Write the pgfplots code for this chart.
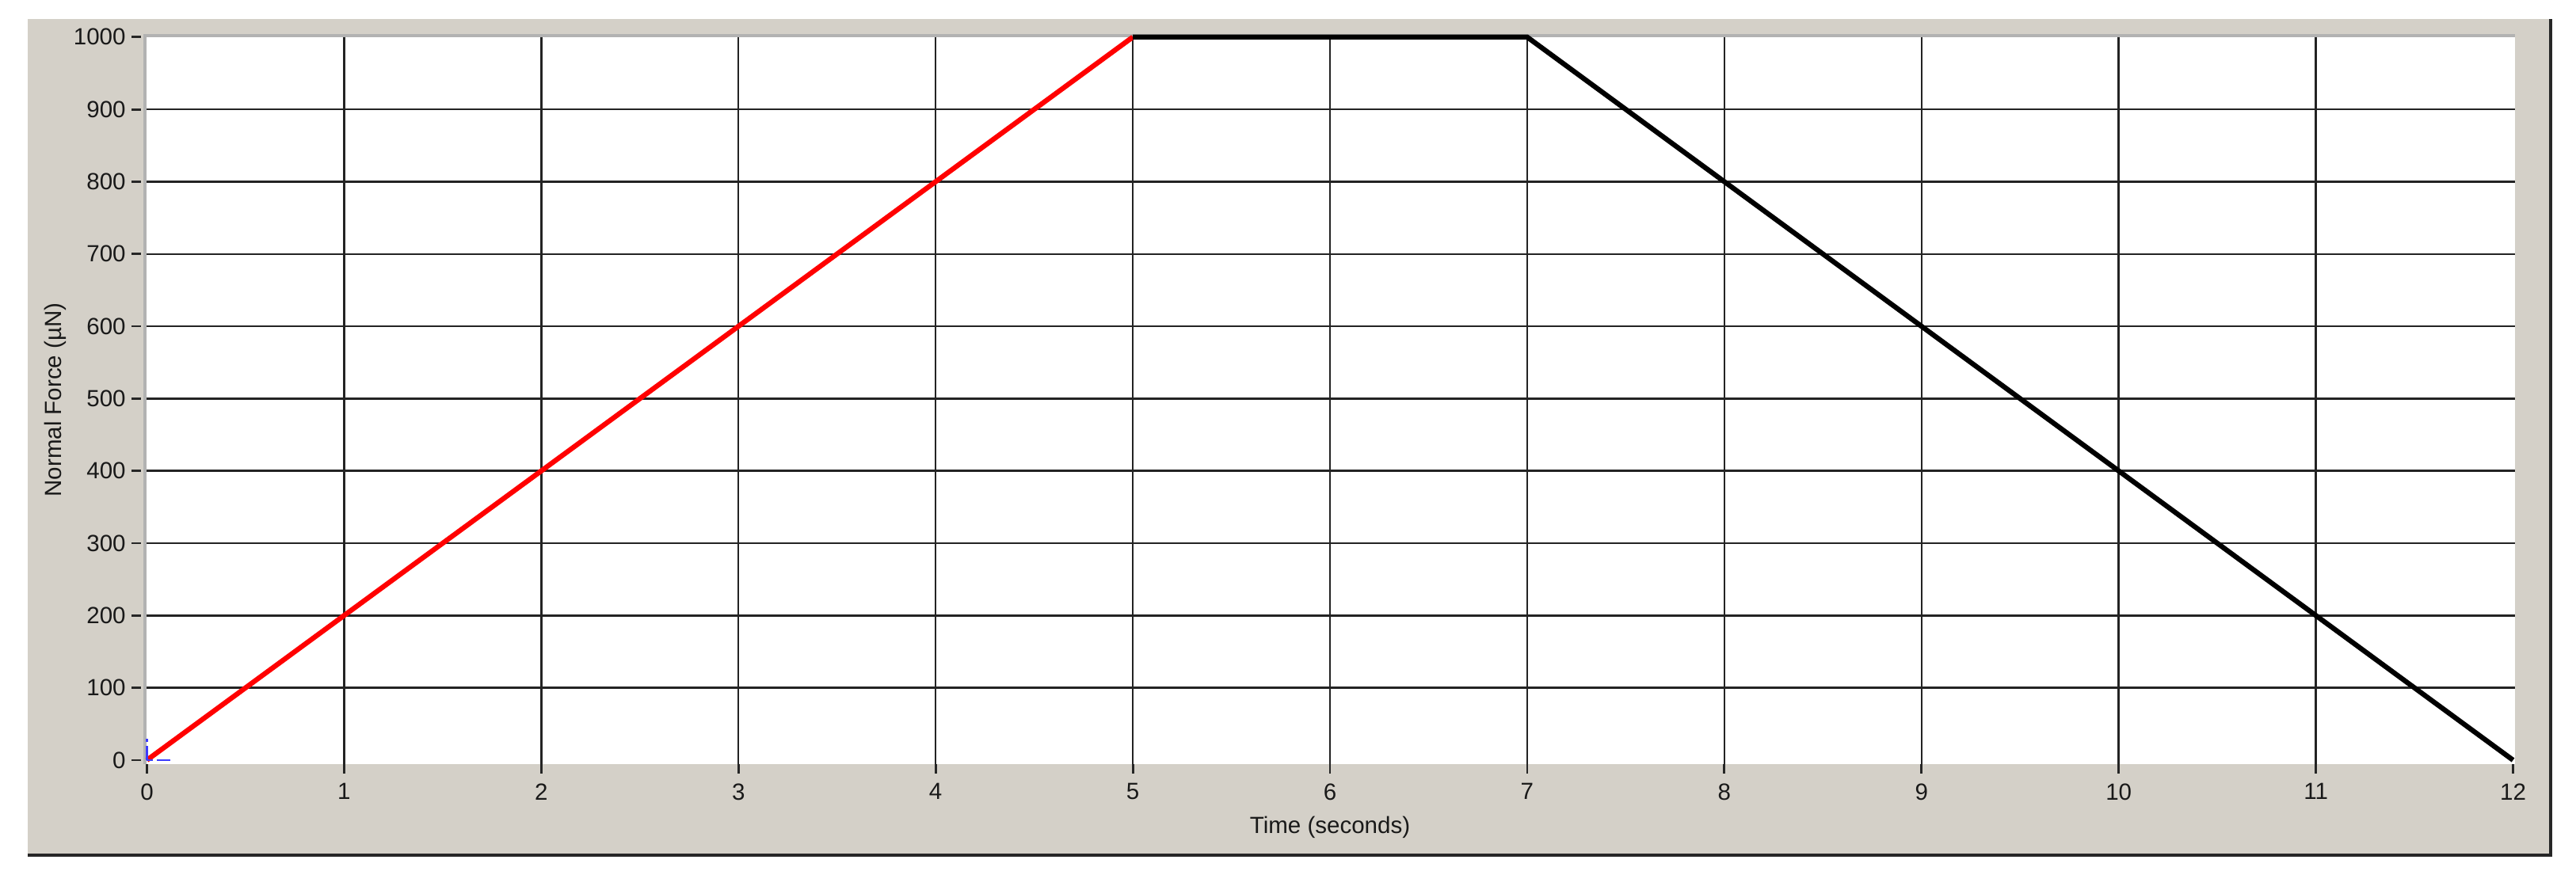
\documentclass[border=0pt]{standalone}
\usepackage{pgfplots}
\pgfplotsset{compat=1.18}
\usepackage{fontspec}
\setmainfont{Liberation Sans}
\definecolor{panel}{RGB}{212,208,200}
\definecolor{gridc}{RGB}{35,35,35}
\definecolor{cursor}{RGB}{60,60,255}

\begin{document}
\begin{tikzpicture}[x=1cm,y=1cm]
\useasboundingbox (0,0) rectangle (32.52,11.24);
\fill[white] (0,0) rectangle (32.52,11.24);
% window panel
\fill[panel] (0.35,0.44) rectangle (32.20,11.00);
\draw[line width=0.9pt, black!85] (0.35,0.44) -- (32.20,0.44) -- (32.20,11.00);
\begin{axis}[
  at={(1.83cm,1.59cm)}, anchor=south west,
  scale only axis, width=29.92cm, height=9.20cm,
  xmin=-0.01, xmax=12.01, ymin=-5.5, ymax=1002,
  clip=false,
  axis lines*=left,
  xtick={0,...,12}, ytick={0,100,...,1000},
  minor xtick={1,...,11}, minor ytick={100,200,...,900},
  minor tick length=0pt,
  major tick length=0.12cm, tick align=outside,
  ytick style={xshift=-0.05cm},
  tick style={line width=0.8pt, black!85},
  xmajorgrids=false, ymajorgrids=false,
  xminorgrids=true, yminorgrids=true,
  minor grid style={line width=0.7pt, gridc},
  axis line style={draw=none},
  axis background/.style={fill=white},
  scaled ticks=false,
  /pgf/number format/assume math mode=true,
  /pgf/number format/set thousands separator={},
  ticklabel style={font=\fontsize{8.4}{10}\selectfont, text=black!90},
  label style={font=\fontsize{8.4}{10}\selectfont, text=black!90},
  xlabel={Time (seconds)}, ylabel={Normal Force (µN)},
  every axis x label/.append style={at={(axis description cs:0.5,-0.087)}, anchor=center},
  every axis y label/.append style={at={(axis description cs:-0.0378,0.5)}, anchor=center},
]
\draw[line width=0.9pt, black!30] (rel axis cs:0,0) -- (rel axis cs:0,1) -- (rel axis cs:1,1);
\addplot[red, line width=1.8pt] coordinates {(0,0) (5,1000)};
\addplot[black, line width=1.8pt] coordinates {(5,1000) (7,1000) (12,0)};
\addplot[cursor, line width=0.6pt, dash pattern=on 5pt off 1.5pt] coordinates {(0,0) (0,30)};
\addplot[cursor, line width=0.6pt, dash pattern=on 2pt off 1.5pt on 5pt] coordinates {(0,0) (0.14,0)};
\end{axis}
\end{tikzpicture}
\end{document}
